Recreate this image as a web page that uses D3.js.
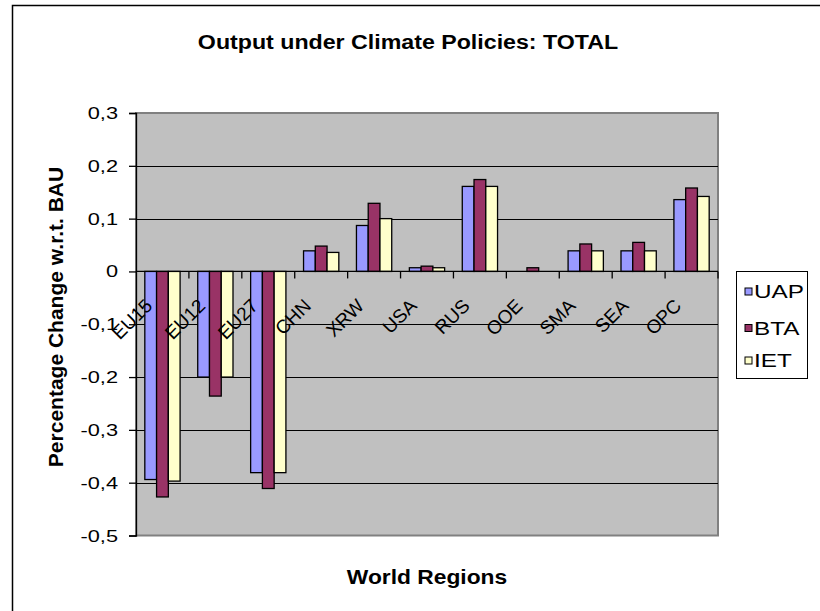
<!DOCTYPE html>
<html>
<head>
<meta charset="utf-8">
<script src="https://cdn.jsdelivr.net/npm/d3@7"></script>
<style>
  body { margin: 0; background: #fff; }
  text { font-family: "Liberation Sans", Arial, Helvetica, sans-serif; fill: #000; }
</style>
</head>
<body>
<svg id="chart" width="820" height="611"></svg>
<script>
// Categories and series (percentage change with respect to BAU)
const regions = ["EU15", "EU12", "EU27", "CHN", "XRW", "USA", "RUS", "OOE", "SMA", "SEA", "OPC"];
const seriesNames = ["UAP", "BTA", "IET"];
const uapValues = [-0.394, -0.200, -0.381, 0.039, 0.087, 0.007, 0.161, 0.000, 0.039, 0.039, 0.136];
const btaValues = [-0.427, -0.236, -0.411, 0.048, 0.129, 0.010, 0.174, 0.007, 0.052, 0.055, 0.158];
const ietValues = [-0.397, -0.200, -0.381, 0.036, 0.100, 0.007, 0.161, 0.000, 0.039, 0.039, 0.142];
const yTickValues = [-0.5, -0.4, -0.3, -0.2, -0.1, 0, 0.1, 0.2, 0.3];
const seriesColors = ["#9999FF", "#993366", "#FFFFCC"];

const titleText = "Output under Climate Policies: TOTAL";
const xTitleText = "World Regions";
const yTitleText = "Percentage Change w.r.t. BAU";

const series = [uapValues, btaValues, ietValues].map((vals, i) => ({
  name: seriesNames[i], color: seriesColors[i], values: vals
}));

const svg = d3.select("#chart");

// Plot area bounds
const plot = { left: 136, right: 718, top: 113, bottom: 535.5 };

const y = d3.scaleLinear().domain([-0.5, 0.3]).range([plot.bottom, plot.top]);
const x = d3.scaleBand().domain(regions).range([plot.left, plot.right]).paddingInner(0).paddingOuter(0);

// Excel-style clustered bars: gap width 150% of a bar
const barW = x.bandwidth() / (seriesNames.length + 1.5);
const groupOffset = barW * 0.75;
const xs = d3.scaleBand().domain(seriesNames).range([groupOffset, groupOffset + barW * seriesNames.length]);

// Text helper with optional horizontal widening
function label(parent, px, py, str, o = {}) {
  const sx = o.sx || 1;
  const t = parent.append("text")
    .attr("transform", `translate(${px},${py}) scale(${sx},1)` + (o.rotate ? ` rotate(${o.rotate})` : ""))
    .attr("text-anchor", o.anchor || "start")
    .style("font-size", (o.size || 16.5) + "px")
    .style("font-weight", o.bold ? "bold" : "normal")
    .text(str);
  return t;
}

// Chart area border
svg.append("rect")
  .attr("x", 12.5).attr("y", 5.5).attr("width", 830).attr("height", 620)
  .attr("fill", "#fff").attr("stroke", "#000").attr("stroke-width", 1.5);

// Plot background
svg.append("rect")
  .attr("x", plot.left).attr("y", plot.top)
  .attr("width", plot.right - plot.left).attr("height", plot.bottom - plot.top)
  .attr("fill", "#C0C0C0").attr("stroke", "#808080").attr("stroke-width", 2);

// Horizontal gridlines
svg.append("g")
  .selectAll("line")
  .data(yTickValues.filter(v => v !== 0 && v !== 0.3 && v !== -0.5))
  .join("line")
  .attr("x1", plot.left).attr("x2", plot.right)
  .attr("y1", d => Math.round(y(d)) + 0.5).attr("y2", d => Math.round(y(d)) + 0.5)
  .attr("stroke", "#000").attr("stroke-width", 1);

// Bars
const barG = svg.append("g");
series.forEach(s => {
  barG.append("g")
    .selectAll("rect")
    .data(s.values.map((v, i) => ({ region: regions[i], value: v })))
    .join("rect")
    .attr("x", d => x(d.region) + xs(s.name))
    .attr("width", barW)
    .attr("y", d => y(Math.max(0, d.value)))
    .attr("height", d => Math.abs(y(d.value) - y(0)))
    .attr("fill", s.color)
    .attr("stroke", "#000")
    .attr("stroke-width", 1.3)
    .style("display", d => d.value === 0 ? "none" : null);
});

// Y axis
const yAxis = d3.axisLeft(y).tickValues(yTickValues).tickSize(7).tickFormat(() => "");
const yAxisG = svg.append("g").attr("transform", `translate(${plot.left},0)`).call(yAxis);
yAxisG.select(".domain").attr("stroke", "#000").attr("stroke-width", 1.3);
yAxisG.selectAll(".tick line").attr("stroke", "#000").attr("stroke-width", 1.3);

const fmt = v => (v === 0 ? "0" : d3.format(".1f")(v).replace(".", ",").replace("−", "-"));
yTickValues.forEach(v => {
  label(svg, 118, y(v) + 6, fmt(v), { anchor: "end", size: 16.5, sx: 1.32 });
});

// X axis along zero with ticks at category boundaries
const xAxisG = svg.append("g");
xAxisG.append("line")
  .attr("x1", plot.left).attr("x2", plot.right)
  .attr("y1", y(0)).attr("y2", y(0))
  .attr("stroke", "#000").attr("stroke-width", 1.3);
xAxisG.selectAll("line.tick")
  .data(regions.slice(1).map(r => x(r)).concat([plot.right]))
  .join("line")
  .attr("class", "tick")
  .attr("x1", d => d).attr("x2", d => d)
  .attr("y1", y(0)).attr("y2", y(0) + 7)
  .attr("stroke", "#000").attr("stroke-width", 1.3);

// Category labels, rotated 45 degrees
regions.forEach(r => {
  label(svg, x(r) + x.bandwidth() / 2 - 9, 307, r, { anchor: "end", size: 19, rotate: -45 });
});

// Titles
label(svg, 408, 49, titleText, { anchor: "middle", size: 20, bold: true, sx: 1.16 });
label(svg, 427, 584, xTitleText, { anchor: "middle", size: 20, bold: true, sx: 1.14 });
label(svg, 63, 317, yTitleText, { anchor: "middle", size: 21, bold: true, sx: 1.0, rotate: -90 });

// Legend
const legend = svg.append("g");
legend.append("rect")
  .attr("x", 736.5).attr("y", 271.5).attr("width", 71).attr("height", 107)
  .attr("fill", "#fff").attr("stroke", "#000").attr("stroke-width", 1);
const legendRows = [291.5, 328, 360.5];
series.forEach((s, i) => {
  legend.append("rect")
    .attr("x", 745).attr("y", legendRows[i] - 3.5).attr("width", 7).attr("height", 7)
    .attr("fill", s.color).attr("stroke", "#000").attr("stroke-width", 1);
  label(legend, 754, legendRows[i] + 6.5, s.name, { size: 18, sx: 1.35 });
});
</script>
</body>
</html>
